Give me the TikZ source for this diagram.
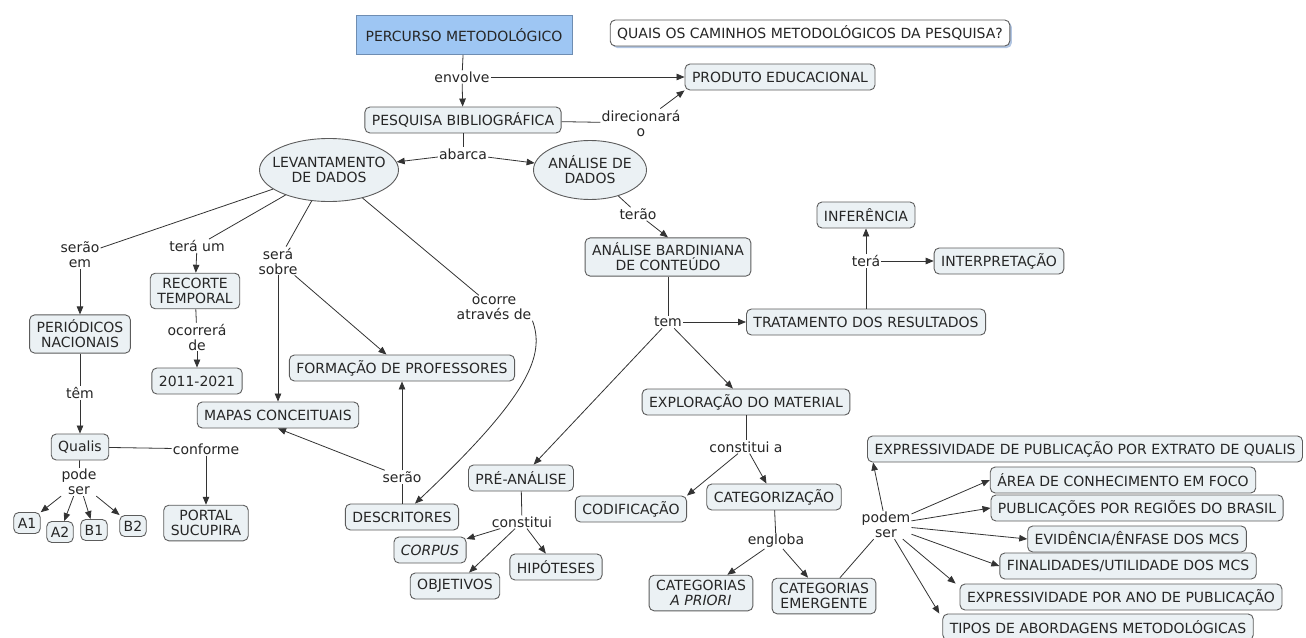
\documentclass[tikz,border=0pt]{standalone}
\usepackage{fontspec}
\setmainfont{DejaVu Sans}
\usetikzlibrary{arrows.meta,shapes.geometric,shadows}
\definecolor{caixa}{HTML}{EBF1F4}
\definecolor{borda}{HTML}{5C5C5C}
\definecolor{azulcaixa}{HTML}{9EC6F3}
\definecolor{azulborda}{HTML}{6E8DB2}
\definecolor{sombra}{HTML}{9FB8DC}
\tikzset{
  conceito/.style={draw=borda, fill=caixa, rounded corners=5pt, line width=0.9pt,
    inner xsep=7pt, inner ysep=5pt, minimum height=26pt, align=center},
  elipse/.style={ellipse, draw=borda, fill=caixa, line width=0.9pt, inner ysep=0pt, align=center},
  rotulo/.style={fill=white, inner sep=1pt, align=center},
  seta/.style={-{Triangle[length=8pt,width=6.5pt]}, line width=0.8pt, draw=black!80},
  linha/.style={line width=0.8pt, draw=black!80},
}
\begin{document}
\begin{tikzpicture}[x=1pt, y=-1pt,
    every node/.style={font=\fontsize{14}{15}\selectfont, text=black!85}]
  \useasboundingbox (0,0) rectangle (1306,637);

  % Topo do mapa
  \node[draw=azulborda, fill=azulcaixa, line width=0.9pt, minimum width=216pt, minimum height=39pt] (percurso) at (464,35) {PERCURSO METODOLÓGICO};
  \node[conceito, fill=white, drop shadow={shadow xshift=2pt, shadow yshift=-2pt, fill=sombra, opacity=0.8}] (quais) at (810,33) {QUAIS OS CAMINHOS METODOLÓGICOS DA PESQUISA?};
  \node[conceito] (produto) at (780,77) {PRODUTO EDUCACIONAL};
  \node[conceito] (pesquisa) at (463,120) {PESQUISA BIBLIOGRÁFICA};
  \node[rotulo] (envolve) at (462,77) {envolve};
  \node[rotulo] (direciona) at (641,123) {direcionará\\o};
  \node[rotulo] (abarca) at (463,154) {abarca};
  \node[elipse, minimum width=139pt, minimum height=63pt, inner xsep=-8pt] (levant) at (329,170) {LEVANTAMENTO\\DE DADOS};
  \node[elipse, minimum width=113pt, minimum height=59pt, inner xsep=-2pt] (analise) at (590,170) {ANÁLISE DE\\DADOS};

  \draw[linha] (percurso) -- (envolve);
  \draw[seta] (envolve) -- (pesquisa);
  \draw[seta] (envolve) -- (produto);
  \draw[linha] (pesquisa) -- (direciona);
  \draw[seta] (direciona) -- (produto.south west);
  \draw[linha] (pesquisa) -- (abarca);
  \draw[seta] (abarca) -- (levant);
  \draw[seta] (abarca) -- (analise);

  % Levantamento de dados
  \node[rotulo] (seraoem) at (80,255) {serão\\em};
  \node[rotulo] (teraum) at (197,246) {terá um};
  \node[rotulo] (serasobre) at (278,261) {será\\sobre};
  \node[rotulo] (ocorre) at (494,308) {ocorre\\através de};
  \node[conceito] (periodicos) at (80,334) {PERIÓDICOS\\NACIONAIS};
  \node[conceito] (recorte) at (195,291) {RECORTE\\TEMPORAL};
  \node[rotulo] (ocorrera) at (197,337) {ocorrerá\\de};
  \node[conceito] (anos) at (197,381) {2011-2021};
  \node[conceito] (formacao) at (402,368) {FORMAÇÃO DE PROFESSORES};
  \node[conceito] (mapas) at (278,415) {MAPAS CONCEITUAIS};
  \node[conceito] (descritores) at (402,517) {DESCRITORES};
  \node[rotulo] (serao) at (402,477) {serão};
  \node[rotulo] (tem2) at (80,393) {têm};
  \node[conceito] (qualis) at (80,447) {Qualis};
  \node[rotulo] (conforme) at (206,449) {conforme};
  \node[conceito] (portal) at (206,523) {PORTAL\\SUCUPIRA};
  \node[rotulo] (podeser) at (79,482) {pode\\ser};
  \node[conceito, inner xsep=4pt, minimum height=21pt] (a1) at (27,523) {A1};
  \node[conceito, inner xsep=4pt, minimum height=21pt] (a2) at (60,532) {A2};
  \node[conceito, inner xsep=4pt, minimum height=21pt] (b1) at (94,530) {B1};
  \node[conceito, inner xsep=4pt, minimum height=21pt] (b2) at (133,526) {B2};

  \draw[linha] (levant) -- (seraoem);
  \draw[seta] (seraoem) -- (periodicos);
  \draw[linha] (levant) -- (teraum);
  \draw[seta] (teraum) -- (recorte);
  \draw[linha] (recorte) -- (ocorrera);
  \draw[seta] (ocorrera) -- (anos);
  \draw[linha] (levant) -- (serasobre);
  \draw[seta] (serasobre) -- (mapas);
  \draw[seta] (serasobre) -- (formacao);
  \draw[linha] (levant) -- (ocorre);
  \draw[seta] (ocorre.south east) .. controls (545,355) and (530,395) .. ([xshift=13pt]descritores.north);
  \draw[linha] (descritores) -- (serao);
  \draw[seta] (serao) -- (formacao);
  \draw[seta] (serao) -- (mapas.south);
  \draw[linha] (periodicos) -- (tem2);
  \draw[seta] (tem2) -- (qualis);
  \draw[linha] (qualis) -- (conforme);
  \draw[seta] (conforme) -- (portal);
  \draw[linha] (qualis) -- (podeser);
  \foreach \q in {a1,a2,b1,b2}
    \draw[seta] (podeser) -- (\q);

  % Analise de dados
  \node[rotulo] (terao) at (638,214) {terão};
  \node[conceito] (bardin) at (668,257) {ANÁLISE BARDINIANA\\DE CONTEÚDO};
  \node[rotulo] (tem) at (668,322) {tem};
  \node[conceito] (tratamento) at (866,322) {TRATAMENTO DOS RESULTADOS};
  \node[rotulo] (tera) at (866,261) {terá};
  \node[conceito] (inferencia) at (866,215) {INFERÊNCIA};
  \node[conceito] (interpretacao) at (999,261) {INTERPRETAÇÃO};
  \node[conceito] (exploracao) at (746,402) {EXPLORAÇÃO DO MATERIAL};
  \node[conceito] (preanalise) at (521,478) {PRÉ-ANÁLISE};

  \draw[linha] (analise) -- (terao);
  \draw[seta] (terao) -- (bardin.north);
  \draw[linha] (bardin) -- (tem);
  \draw[seta] (tem) -- (tratamento);
  \draw[seta] (tem) -- (exploracao);
  \draw[seta] (tem) -- (preanalise);
  \draw[linha] (tratamento) -- (tera);
  \draw[seta] (tera) -- (inferencia);
  \draw[seta] (tera) -- (interpretacao);

  % Pre-analise e exploracao
  \node[rotulo] (constitui) at (522,522) {constitui};
  \node[conceito] (corpus) at (430,550) {\itshape CORPUS};
  \node[conceito] (objetivos) at (455,586) {OBJETIVOS};
  \node[conceito] (hipoteses) at (556,567) {HIPÓTESES};
  \node[rotulo] (constituia) at (746,447) {constitui a};
  \node[conceito] (codificacao) at (631,509) {CODIFICAÇÃO};
  \node[conceito] (categorizacao) at (774,497) {CATEGORIZAÇÃO};
  \node[rotulo] (engloba) at (776,541) {engloba};
  \node[conceito] (apriori) at (701,593) {CATEGORIAS\\\itshape A PRIORI};
  \node[conceito] (emergente) at (824,596) {CATEGORIAS\\EMERGENTE};

  \draw[linha] (preanalise) -- (constitui);
  \draw[seta] (constitui) -- (corpus);
  \draw[seta] (constitui) -- (objetivos);
  \draw[seta] (constitui) -- (hipoteses);
  \draw[linha] (exploracao) -- (constituia);
  \draw[seta] (constituia) -- (codificacao.north east);
  \draw[seta] (constituia) -- (categorizacao);
  \draw[linha] (categorizacao) -- (engloba);
  \draw[seta] (engloba) -- (apriori);
  \draw[seta] (engloba) -- (emergente);

  % Categorias emergentes
  \node[rotulo] (podemser) at (886,525) {podem\\ser};
  \node[conceito] (qualisextr) at (1085,449) {EXPRESSIVIDADE DE PUBLICAÇÃO POR EXTRATO DE QUALIS};
  \node[conceito] (area) at (1123,480) {ÁREA DE CONHECIMENTO EM FOCO};
  \node[conceito] (regioes) at (1137,508) {PUBLICAÇÕES POR REGIÕES DO BRASIL};
  \node[conceito] (enfase) at (1137,539) {EVIDÊNCIA/ÊNFASE DOS MCS};
  \node[conceito] (finalidades) at (1128,566) {FINALIDADES/UTILIDADE DOS MCS};
  \node[conceito] (ano) at (1121,597) {EXPRESSIVIDADE POR ANO DE PUBLICAÇÃO};
  \node[conceito] (tipos) at (1098,627) {TIPOS DE ABORDAGENS METODOLÓGICAS};

  \draw[linha] (emergente) -- (podemser);
  \draw[seta] (podemser) -- ([xshift=6pt]qualisextr.south west);
  \foreach \c in {area,regioes,enfase,finalidades}
    \draw[seta] (podemser) -- (\c.west);
  \draw[seta] (podemser) -- ([xshift=-4pt]ano.north west);
  \draw[seta] (podemser) -- ([xshift=-3pt]tipos.north west);
\end{tikzpicture}
\end{document}
